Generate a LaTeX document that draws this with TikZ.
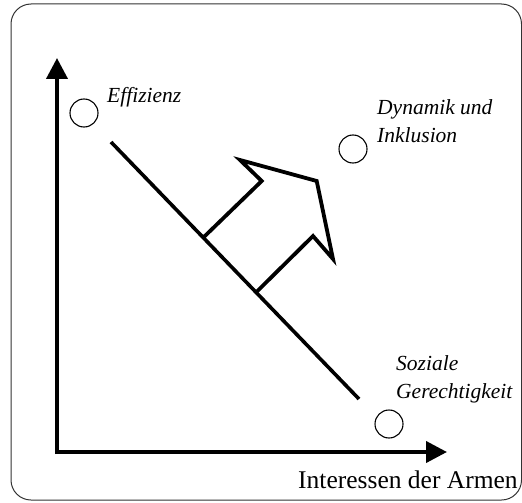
\documentclass[tikz,border=0pt]{standalone}
\usepackage{fontspec}
\setmainfont{Liberation Serif}
\usetikzlibrary{arrows.meta,calc}
\tikzset{
  frame/.style={draw=black!80, line width=1pt, rounded corners=20pt},
  axis/.style={line width=4pt, -{Triangle[length=21pt,width=21pt]}},
  thick line/.style={line width=3.6pt},
  shiftarrow/.style={line width=3.8pt, line join=miter},
  pt/.style={circle, draw, line width=1.1pt, minimum size=28pt, inner sep=0pt},
  lab/.style={font=\fontsize{21.5}{28}\selectfont\itshape, anchor=base west, inner sep=0pt},
  xlab/.style={font=\fontsize{25.5}{30}\selectfont, anchor=base west, inner sep=0pt}
}
\begin{document}
\begin{tikzpicture}[x=1pt,y=-1pt]
\useasboundingbox (0,0) rectangle (522,503);
\draw[frame] (11,4) rectangle (521.5,500);
% axes
\coordinate (o) at (57,452);
\coordinate (ytip) at (57,58);
\coordinate (xtip) at (447,452);
\draw[axis] ([yshift=-2pt]o) -- (ytip);
\draw[axis] ([xshift=-2pt]o) -- (xtip);
% points
\node[pt] (eff) at (84,113) {};
\node[pt] (dyn) at (353,149) {};
\node[pt] (soz) at (389,424) {};
% labels
\node[lab] (effl) at (107,102) {Effizienz};
\node[lab] (dynl1) at (377,114) {Dynamik und};
\node[lab] (dynl2) at (377,142) {Inklusion};
\node[lab] (sozl1) at (396,370) {Soziale};
\node[lab] (sozl2) at (396,398) {Gerechtigkeit};
\node[xlab] (xl) at (298,488) {Interessen der Armen};
% frontier line
\coordinate (la) at (111,142);
\coordinate (lb) at (359,399);
\draw[thick line] (la) -- (lb);
\coordinate (p1) at ($(la)!0.372!(lb)$);
\coordinate (p2) at ($(la)!0.585!(lb)$);
% shift arrow
\draw[shiftarrow] (p1) -- (261.7,181) -- (240,160) -- (316.7,181) -- (333,259) -- (313,236) -- (p2);
\end{tikzpicture}
\end{document}
